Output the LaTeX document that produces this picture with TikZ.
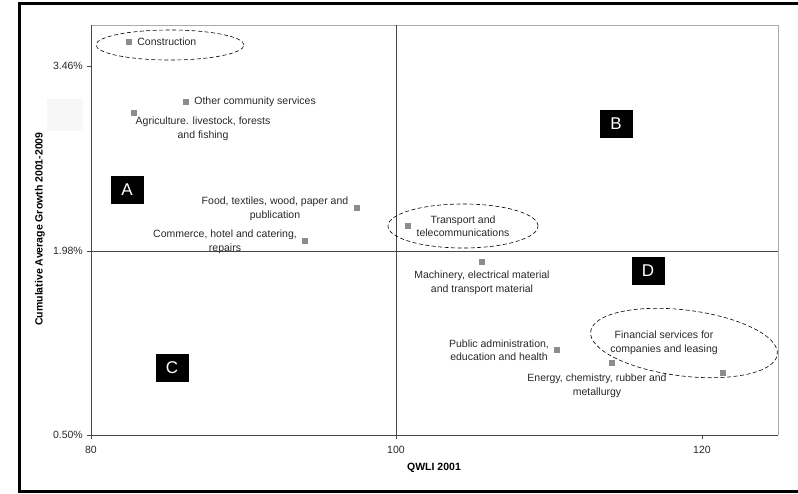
\documentclass[tikz,border=0pt]{standalone}
\usepackage{fontspec}
\setmainfont{Liberation Sans}
\usetikzlibrary{positioning}
\definecolor{pointgris}{RGB}{140,140,140}
\definecolor{cadregris}{RGB}{170,170,170}
\definecolor{axegris}{RGB}{70,70,70}
\definecolor{texte}{RGB}{40,40,40}

\tikzset{
  point/.style={rectangle, fill=pointgris, minimum size=6pt, inner sep=0pt},
  etiq/.style={font=\fontsize{10.5}{13.5}\selectfont, text=texte, align=center, inner sep=1pt},
  axetitre/.style={font=\fontsize{10.5}{12}\selectfont\bfseries, text=black, inner sep=1pt},
  quadrant/.style={rectangle, fill=black, text=white, font=\fontsize{17}{17}\selectfont,
    minimum width=33pt, minimum height=28pt, inner sep=0pt},
  groupe/.style={dash pattern=on 4pt off 2.5pt, line width=0.6pt, black}
}

\begin{document}
\begin{tikzpicture}[x=1pt, y=-1pt]
\useasboundingbox (0,0) rectangle (798,493);

% Cadre exterieur
\draw[line width=3pt] (798,3) -- (19,3) -- (19,491) -- (798,491);
\fill[black!3] (47,99) rectangle (83,131);

% Zone du graphique
\draw[cadregris, line width=1pt] (91,25) -- (778,25) -- (778,435);
\draw[axegris, line width=1pt] (91,25) -- (91,435) -- (778,435);

% Graduations
\foreach \y/\val/\nom in {66/3.46/haut, 251/1.98/milieu, 435/0.50/bas} {
    \draw[axegris] (87,\y) -- (91,\y);
    \node[etiq, anchor=east] (gy-\nom) at (84,\y) {\val\%};
}
\foreach \x/\val in {91/80, 396/100, 702/120} {
    \draw[axegris] (\x,435) -- (\x,439);
    \node[etiq] (gx-\val) at (\x,450) {\val};
}

% Axes des quadrants
\draw[axegris, line width=0.8pt] (396,25) -- (396,435);
\draw[axegris, line width=0.8pt] (91,251) -- (778,251);

% Titres des axes
\node[axetitre, rotate=90] (ytitre) at (40,229) {Cumulative Average Growth 2001-2009};
\node[axetitre] (xtitre) at (434,468) {QWLI 2001};

% Quadrants
\node[quadrant] (qA) at (127,190) {A};
\node[quadrant] (qB) at (616,124) {B};
\node[quadrant] (qC) at (172,368) {C};
\node[quadrant] (qD) at (648,271) {D};

% Secteurs
\foreach \nom/\x/\y in {constr/129/42, autres/186/102, agri/134/113, alim/357/208,
    comm/305/241, transp/408/226, mach/482/262, admin/557/350, energ/612/363, finan/723/373} {
    \node[point] (\nom) at (\x,\y) {};
}

% Etiquettes
\node[etiq, right=4pt of constr] (constr-t) {Construction};
\node[etiq, right=4pt of autres] (autres-t) {Other community services};
\node[etiq] (agri-t) at (203,129) {Agriculture. livestock, forests\\and fishing};
\node[etiq] (alim-t) at (275,209) {Food, textiles, wood, paper and\\publication};
\node[etiq] (comm-t) at (225,242) {Commerce, hotel and catering,\\repairs};
\node[etiq] (transp-t) at (463,226) {Transport and\\telecommunications};
\node[etiq] (mach-t) at (482,283) {Machinery, electrical material\\and transport material};
\node[etiq] (admin-t) at (499,350) {Public administration,\\education and health};
\node[etiq] (energ-t) at (597,386) {Energy, chemistry, rubber and\\metallurgy};
\node[etiq] (finan-t) at (664,343) {Financial services for\\companies and leasing};

% Groupes entoures
\draw[groupe] (170,45) ellipse [x radius=74pt, y radius=15pt];
\draw[groupe] (463,226) ellipse [x radius=75pt, y radius=22pt];
\draw[groupe, rotate around={-7:(684,343)}] (684,343) ellipse [x radius=94pt, y radius=33pt];

\end{tikzpicture}
\end{document}
